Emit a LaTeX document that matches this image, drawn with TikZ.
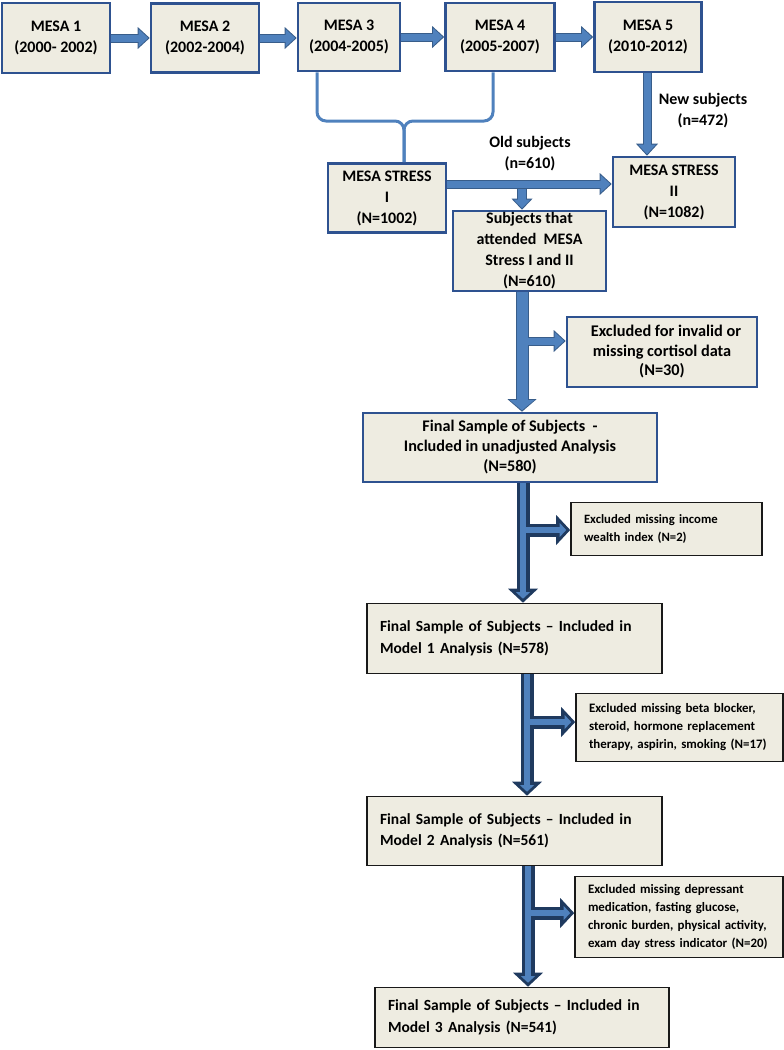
\documentclass[tikz,border=0pt]{standalone}
\usepackage{fontspec}
\setmainfont{Carlito}
\usetikzlibrary{arrows.meta}
\definecolor{boxfill}{HTML}{EEECE1}
\definecolor{boxedge}{HTML}{2E5290}
\definecolor{flowblue}{HTML}{4F81BD}
\definecolor{flowedge}{HTML}{385D8A}
\definecolor{flownavy}{HTML}{1F3A5F}

\begin{document}
\begin{tikzpicture}[x=1pt, y=-1pt,
  wave/.style={draw=boxedge, fill=boxfill, line width=2.6pt, align=center, inner sep=0pt, font=\fontsize{16}{21}\selectfont\bfseries},
  lean/.style={draw=black!90, fill=boxfill, line width=1.6pt, align=left, inner ysep=0pt, inner xsep=13pt},
  tag/.style={align=center, inner sep=1pt, font=\fontsize{16}{21}\selectfont\bfseries},
  brace/.style={draw=flowblue, line width=3pt, rounded corners=9pt},
  rimup/.style={draw=flowedge, line width=9pt, -{Triangle[width=22pt,length=12pt,line width=0pt]}},
  coreup/.style={draw=flowblue, line width=7pt, shorten >=1.5pt, -{Triangle[width=17.5pt,length=9.5pt,line width=0pt]}},
  rimsmall/.style={draw=flowedge, line width=10pt, -{Triangle[width=21pt,length=11pt,line width=0pt]}},
  coresmall/.style={draw=flowblue, line width=8pt, shorten >=1.5pt, -{Triangle[width=16.5pt,length=8.5pt,line width=0pt]}},
  rimwide/.style={draw=flowedge, line width=13pt, -{Triangle[width=29pt,length=12.5pt,line width=0pt]}},
  corewide/.style={draw=flowblue, line width=11pt, shorten >=1.5pt, -{Triangle[width=24.5pt,length=10pt,line width=0pt]}},
  rimdark/.style={draw=flownavy, line width=13pt, -{Triangle[width=30pt,length=14pt,line width=0pt]}},
  coredark/.style={draw=flowblue, line width=6.5pt, shorten >=4pt, -{Triangle[width=14pt,length=6.5pt,line width=0pt]}}]
\useasboundingbox (0,0) rectangle (784,1050);
% ---- MESA exams
\node[wave, minimum width=108pt, minimum height=70pt] (m1) at (56,38) {MESA 1\\(2000- 2002)};
\node[wave, minimum width=108pt, minimum height=69pt] (m2) at (205,38) {MESA 2\\(2002-2004)};
\node[wave, minimum width=102pt, minimum height=68pt] (m3) at (349,37) {MESA 3\\(2004-2005)};
\node[wave, minimum width=109pt, minimum height=68pt] (m4) at (500,37) {MESA 4\\(2005-2007)};
\node[wave, minimum width=107pt, minimum height=70pt] (m5) at (648,37) {MESA 5\\(2010-2012)};
\foreach \a/\b in {m1/m2, m2/m3, m3/m4, m4/m5} {
  \draw[rimup] (\a.east) -- (\a.east -| \b.west);
  \draw[coreup] (\a.east) -- (\a.east -| \b.west);
}
% ---- stress studies
\node[wave, minimum width=118pt, minimum height=69pt] (s1) at (387,198) {MESA STRESS\\I\\(N=1002)};
\node[wave, minimum width=122pt, minimum height=70pt] (s2) at (674,192) {MESA STRESS\\II\\(N=1082)};
\node[wave, minimum width=153pt, minimum height=80pt] (both) at (529.5,251) {Subjects that\\attended\ \ MESA\\Stress I and II\\(N=610)};
\node[tag] (newtag) at (703,111) {New subjects\\(n=472)};
\node[tag] (oldtag) at (530,154) {Old subjects\\(n=610)};
\coordinate (cusp) at (404,121);
\draw[brace] ([xshift=-32pt]m3.south) |- (cusp) -- (cusp |- s1.north);
\draw[brace] ([xshift=-7pt]m4.south) |- (cusp) -- (cusp |- s1.north);
\draw[rimup] ([xshift=-1pt]m5.south) -- ([xshift=-1pt]m5.south |- s2.north);
\draw[coreup] ([xshift=-1pt]m5.south) -- ([xshift=-1pt]m5.south |- s2.north);
\coordinate (split) at (522,184);
\draw[rimsmall] (split) -- (split |- both.north);
\draw[coresmall] (split) -- (split |- both.north);
\draw[rimup] (s1.east |- split) -- (split -| s2.west);
\draw[coreup] (s1.east |- split) -- (split -| s2.west);
% ---- exclusions
\node[wave, minimum width=190pt, minimum height=70pt, font=\fontsize{16.3}{19.5}\selectfont\bfseries] (ex1) at (662,352) {\hspace*{8pt}Excluded for invalid or\\missing cortisol data\\(N=30)};
\node[wave, minimum width=294pt, minimum height=69pt, font=\fontsize{16.2}{20}\selectfont\bfseries] (fin0) at (510,447.5) {Final Sample of Subjects \ -\\Included in unadjusted Analysis\\(N=580)};
\coordinate (t1) at (522,341);
\draw[rimwide] (both.south -| t1) -- (t1 |- fin0.north);
\draw[rimup] (t1) -- (t1 -| ex1.west);
\draw[corewide] (both.south -| t1) -- (t1 |- fin0.north);
\draw[coreup] (t1) -- (t1 -| ex1.west);
\node[lean, minimum height=53pt, text width=165pt, font=\fontsize{12.7}{18}\selectfont\bfseries] (ex2) at (666.5,529) {Excluded missing income\\wealth index (N=2)};
\node[lean, minimum height=70pt, text width=269pt, font=\fontsize{15.5}{21.5}\selectfont\bfseries] (fin1) at (514.5,638.5) {Final Sample of Subjects -- Included in\\Model 1 Analysis (N=578)};
\node[lean, minimum height=68pt, text width=181pt, font=\fontsize{12.9}{18}\selectfont\bfseries] (ex3) at (679.5,727.5) {Excluded missing beta blocker,\\steroid, hormone replacement\\therapy, aspirin, smoking (N=17)};
\node[lean, minimum height=69pt, text width=269pt, font=\fontsize{15.5}{21.5}\selectfont\bfseries] (fin2) at (514.5,831) {Final Sample of Subjects -- Included in\\Model 2 Analysis (N=561)};
\node[lean, minimum height=81pt, text width=182pt, font=\fontsize{12.9}{18.3}\selectfont\bfseries] (ex4) at (679,917) {Excluded missing depressant\\medication, fasting glucose,\\chronic burden, physical activity,\\exam day stress indicator (N=20)};
\node[lean, minimum height=60pt, text width=268pt, font=\fontsize{15.5}{22.5}\selectfont\bfseries] (fin3) at (522,1017.5) {Final Sample of Subjects -- Included in\\Model 3 Analysis (N=541)};
\coordinate (t2) at (523,530);
\coordinate (t3) at (527,722);
\coordinate (t4) at (528,913);
\foreach \t/\a/\b/\c in {t2/fin0/fin1/ex2, t3/fin1/fin2/ex3, t4/fin2/fin3/ex4} {
  \draw[rimdark] (\a.south -| \t) -- (\t |- \b.north);
  \draw[rimdark] (\t) -- (\t -| \c.west);
  \draw[coredark] (\a.south -| \t) -- (\t |- \b.north);
  \draw[coredark] (\t) -- (\t -| \c.west);
}
\end{tikzpicture}
\end{document}
